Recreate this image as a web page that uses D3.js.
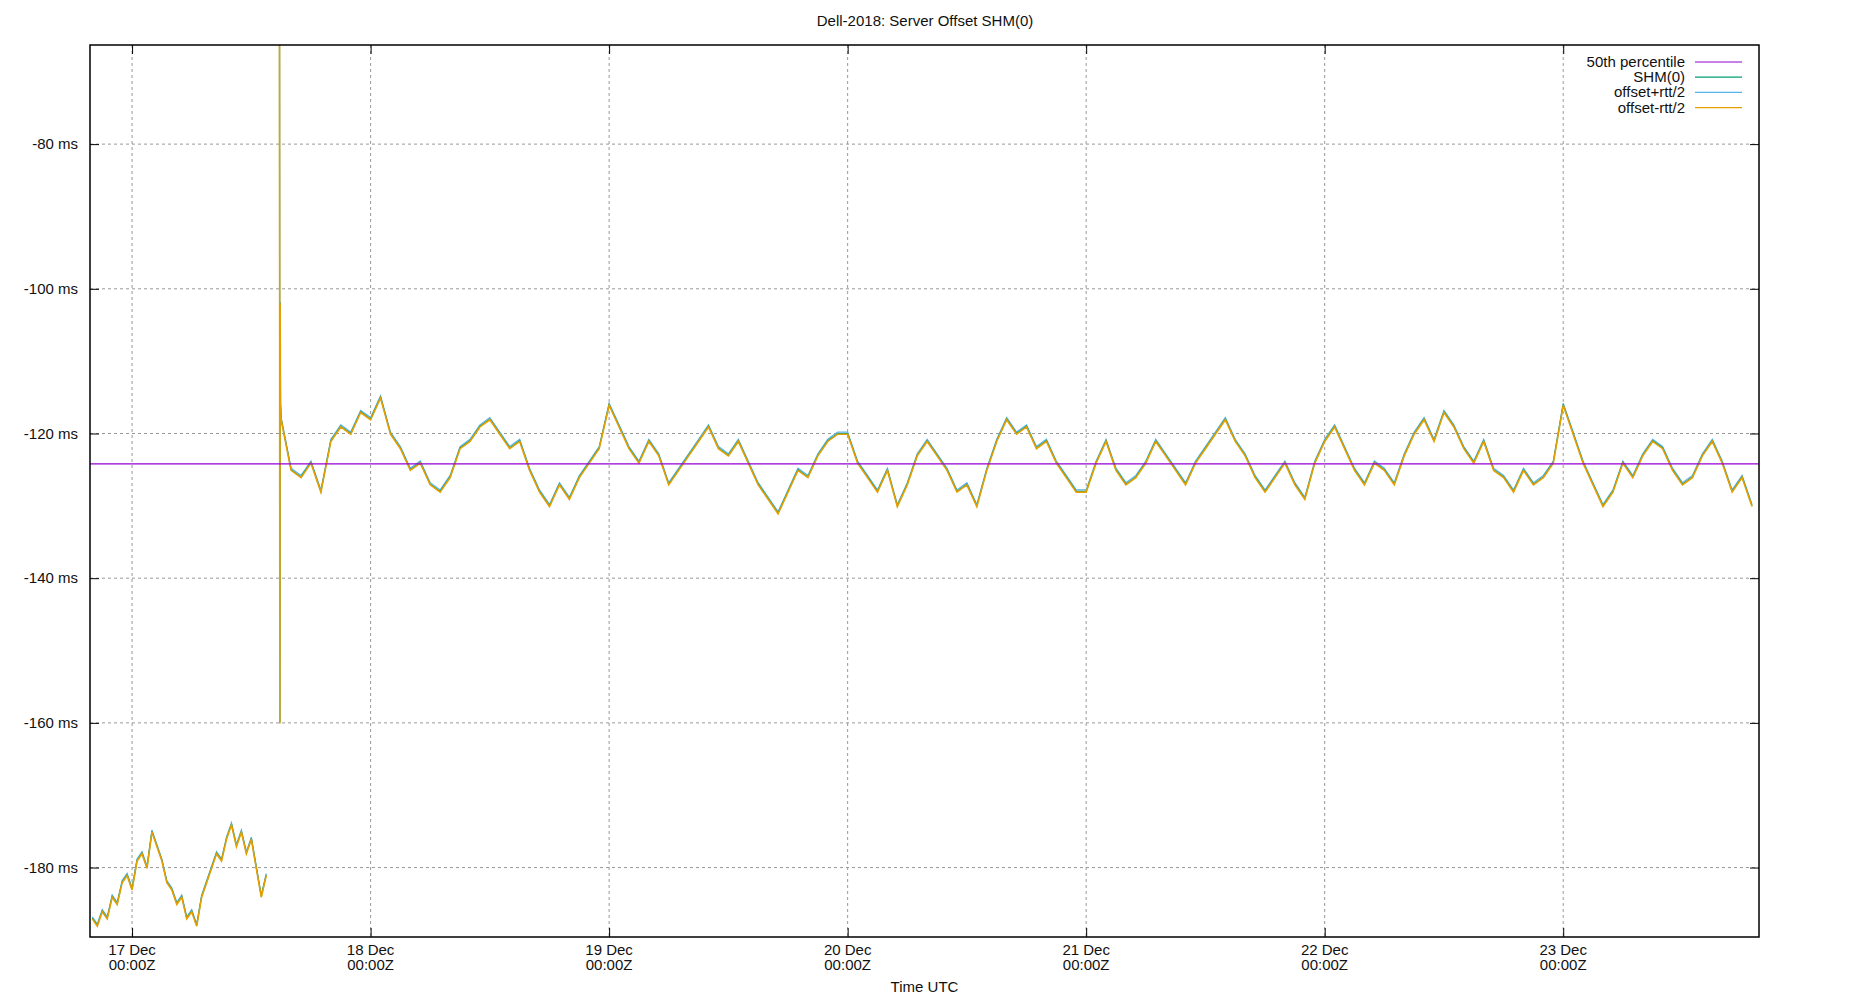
<!DOCTYPE html>
<html>
<head>
<meta charset="utf-8">
<script src="https://cdn.jsdelivr.net/npm/d3@7"></script>
<style>
body { margin: 0; background: #fff; }
text { font-family: "Liberation Sans", Arial, sans-serif; fill: #111; }
</style>
</head>
<body>
<svg id="chart" width="1850" height="1000"></svg>
<script>
// offset readings (ms), first block starts 16 Dec 20:00Z every 30 min
var seg1Start = Date.UTC(2018, 11, 16, 20, 0);
var seg1 = [-187, -188, -186, -187, -184, -185, -182, -181, -183, -179, -178, -180, -175, -177, -179, -182, -183, -185,
    -184, -187, -186, -188, -184, -182, -180, -178, -179, -176, -174, -177, -175, -178, -176, -180, -184, -181];

// spike around the step, 17 Dec 14:50Z
var spikeTimes = ['2018-12-17T14:50:00Z', '2018-12-17T14:52:00Z', '2018-12-17T14:54:00Z', '2018-12-17T14:56:00Z'];
var spikeVals = [-60, -160, -102, -116];

// second block, hourly from 17 Dec 15:00Z
var seg2Start = Date.UTC(2018, 11, 17, 15, 0);
var seg2 = [
    -118, -125, -126, -124, -128, -121, -119, -120, -117,
    -118, -115, -120, -122, -125, -124, -127, -128, -126, -122, -121, -119, -118, -120, -122, -121, -125, -128, -130, -127, -129, -126, -124, -122,
    -116, -119, -122, -124, -121, -123, -127, -125, -123, -121, -119, -122, -123, -121, -124, -127, -129, -131, -128, -125, -126, -123, -121, -120,
    -120, -124, -126, -128, -125, -130, -127, -123, -121, -123, -125, -128, -127, -130, -125, -121, -118, -120, -119, -122, -121, -124, -126, -128,
    -128, -124, -121, -125, -127, -126, -124, -121, -123, -125, -127, -124, -122, -120, -118, -121, -123, -126, -128, -126, -124, -127, -129, -124,
    -121, -119, -122, -125, -127, -124, -125, -127, -123, -120, -118, -121, -117, -119, -122, -124, -121, -125, -126, -128, -125, -127, -126, -124,
    -116, -120, -124, -127, -130, -128, -124, -126, -123, -121, -122, -125, -127, -126, -123, -121, -124, -128, -126, -130
];
var rttHalf = [0.2];
var median = -124.2;

var yTicks = [-80, -100, -120, -140, -160, -180];
var xTicks = ['2018-12-17', '2018-12-18', '2018-12-19', '2018-12-20', '2018-12-21', '2018-12-22', '2018-12-23'];
var months = ['Jan', 'Feb', 'Mar', 'Apr', 'May', 'Jun', 'Jul', 'Aug', 'Sep', 'Oct', 'Nov', 'Dec'];

var seriesInfo = [
    { name: '50th percentile', color: '#9400d3' },
    { name: 'SHM(0)', color: '#009e73' },
    { name: 'offset+rtt/2', color: '#56b4e9' },
    { name: 'offset-rtt/2', color: '#e69f00' }
];

var pLeft = 90, pRight = 1759, pTop = 45, pBottom = 937;
var svg = d3.select('#chart');

var x = d3.scaleUtc()
    .domain([new Date(Date.UTC(2018, 11, 16, 19, 46)), new Date(Date.UTC(2018, 11, 23, 19, 42))])
    .range([pLeft, pRight]);
var y = d3.scaleLinear().domain([-189.6, -66.3]).range([pBottom, pTop]);

// build point lists
var pts = [];
seg1.forEach(function(v, i) { pts.push({ t: new Date(seg1Start + i * 1800000), v: v }); });
var pts2 = [];
spikeTimes.forEach(function(t, i) { pts2.push({ t: new Date(t), v: spikeVals[i] }); });
seg2.forEach(function(v, i) { pts2.push({ t: new Date(seg2Start + i * 3600000), v: v }); });

svg.append('text').attr('x', 925).attr('y', 26).attr('text-anchor', 'middle').style('font-size', '15px')
    .text('Dell-2018: Server Offset SHM(0)');

svg.append('clipPath').attr('id', 'clip').append('rect')
    .attr('x', pLeft).attr('y', pTop).attr('width', pRight - pLeft).attr('height', pBottom - pTop);

// grid
var grid = svg.append('g').attr('stroke', '#999').attr('stroke-dasharray', '3,3').attr('stroke-width', 1);
yTicks.forEach(function(t) {
    grid.append('line').attr('x1', pLeft).attr('x2', pRight).attr('y1', y(t)).attr('y2', y(t));
});
xTicks.forEach(function(t) {
    var xx = x(new Date(t + 'T00:00:00Z'));
    grid.append('line').attr('x1', xx).attr('x2', xx).attr('y1', pTop).attr('y2', pBottom);
});

var plot = svg.append('g').attr('clip-path', 'url(#clip)');
var lineOff = function(off) {
    return d3.line().x(function(d) { return x(d.t); }).y(function(d) { return y(d.v + off); });
};

[pts, pts2].forEach(function(p) {
    plot.append('path').datum(p).attr('d', lineOff(rttHalf[0])).attr('fill', 'none').attr('stroke', seriesInfo[2].color).attr('stroke-width', 1.2);
    plot.append('path').datum(p).attr('d', lineOff(0)).attr('fill', 'none').attr('stroke', seriesInfo[1].color).attr('stroke-width', 1.2);
    plot.append('path').datum(p).attr('d', lineOff(-rttHalf[0] * 0.5)).attr('fill', 'none').attr('stroke', seriesInfo[3].color).attr('stroke-width', 1.6);
});

plot.append('line').attr('x1', pLeft).attr('x2', pRight).attr('y1', y(median)).attr('y2', y(median))
    .attr('stroke', seriesInfo[0].color).attr('stroke-width', 1.2);

// axes
var yAxisL = d3.axisLeft(y).tickValues(yTicks).tickSize(-9).tickPadding(12).tickFormat(function(d) { return d + ' ms'; });
var yAxisR = d3.axisRight(y).tickValues(yTicks).tickSize(-9).tickFormat('');
var xDates = xTicks.map(function(t) { return new Date(t + 'T00:00:00Z'); });
var xAxisB = d3.axisBottom(x).tickValues(xDates).tickSize(-9).tickFormat('');
var xAxisT = d3.axisTop(x).tickValues(xDates).tickSize(-9).tickFormat('');

function style(g) {
    g.select('.domain').remove();
    g.selectAll('line').attr('stroke', '#000');
    g.selectAll('text').style('font-size', '15px').attr('fill', '#111');
}
svg.append('g').attr('transform', 'translate(' + pLeft + ',0)').call(yAxisL).call(style);
svg.append('g').attr('transform', 'translate(' + pRight + ',0)').call(yAxisR).call(style);
svg.append('g').attr('transform', 'translate(0,' + pBottom + ')').call(xAxisB).call(style);
svg.append('g').attr('transform', 'translate(0,' + pTop + ')').call(xAxisT).call(style);

xDates.forEach(function(d) {
    var t = svg.append('text').attr('x', x(d)).attr('y', pBottom + 18).attr('text-anchor', 'middle').style('font-size', '15px');
    t.append('tspan').attr('x', x(d)).text(d.getUTCDate() + ' ' + months[d.getUTCMonth()]);
    t.append('tspan').attr('x', x(d)).attr('dy', 15).text('00:00Z');
});

svg.append('rect').attr('x', pLeft).attr('y', pTop).attr('width', pRight - pLeft).attr('height', pBottom - pTop)
    .attr('fill', 'none').attr('stroke', '#000').attr('stroke-width', 1.5);

svg.append('text').attr('x', (pLeft + pRight) / 2).attr('y', 992).attr('text-anchor', 'middle').style('font-size', '15px').text('Time UTC');

// legend
var lg = svg.append('g');
seriesInfo.forEach(function(s, i) {
    var yy = 62 + i * 15.2;
    lg.append('text').attr('x', 1685).attr('y', yy + 5).attr('text-anchor', 'end').style('font-size', '15px').text(s.name);
    lg.append('line').attr('x1', 1695).attr('x2', 1742).attr('y1', yy).attr('y2', yy).attr('stroke', s.color).attr('stroke-width', 1.2);
});
</script>
</body>
</html>
